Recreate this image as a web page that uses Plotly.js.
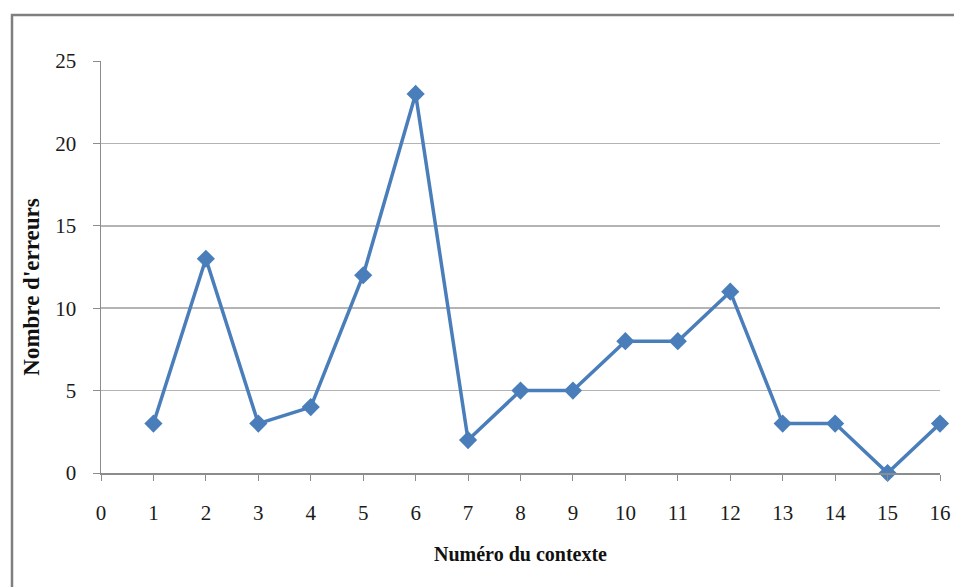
<!DOCTYPE html>
<html>
<head>
<meta charset="utf-8">
<script src="https://cdn.plot.ly/plotly-3.0.1.min.js"></script>
<style>html,body{margin:0;padding:0;background:#fff;}#chart{width:954px;height:587px;}</style>
</head>
<body>
<div id="chart"></div>
<script>
const contextes = [1, 2, 3, 4, 5, 6, 7, 8, 9, 10, 11, 12, 13, 14, 15, 16];
const erreurs = [3, 13, 3, 4, 12, 23, 2, 5, 5, 8, 8, 11, 3, 3, 0, 3];
const xTicks = [0, 1, 2, 3, 4, 5, 6, 7, 8, 9, 10, 11, 12, 13, 14, 15, 16];
const yTicks = [0, 5, 10, 15, 20, 25];
const xTitle = "Numéro du contexte";
const yTitle = "Nombre d'erreurs";

const serif = "Liberation Serif, Times New Roman, serif";

const trace = {
  x: contextes, y: erreurs, type: 'scatter', mode: 'lines+markers',
  line: {color: '#4a7ebb', width: 3.5},
  marker: {symbol: 'diamond', size: 14, color: '#4a7ebb'},
  cliponaxis: false, showlegend: false, hoverinfo: 'skip'
};

const layout = {
  width: 954, height: 587,
  margin: {l: 101, r: 14, t: 61, b: 113.5, pad: 0},
  paper_bgcolor: '#ffffff', plot_bgcolor: '#ffffff',
  font: {family: serif, size: 21, color: '#1a1a1a'},
  xaxis: {
    range: [0, 16], tickvals: xTicks, ticktext: xTicks.map(String),
    showgrid: false, zeroline: false, showline: true, linecolor: '#8c8c8c', linewidth: 1.5,
    ticks: 'outside', ticklen: 6, tickcolor: '#8c8c8c', tickwidth: 1,
    ticklabelstandoff: 14,
    tickfont: {family: serif, size: 21, color: '#1a1a1a'},
    title: {text: xTitle, font: {family: serif, size: 20, color: '#111', weight: 'bold'}, standoff: 23}
  },
  yaxis: {
    range: [0, 25], tickvals: yTicks, ticktext: yTicks.map(String),
    showgrid: true, gridcolor: '#b4b4b4', gridwidth: 1.5,
    zeroline: false, showline: true, linecolor: '#8c8c8c', linewidth: 1.5,
    ticks: 'outside', ticklen: 7, tickcolor: '#8c8c8c', tickwidth: 1,
    ticklabelstandoff: 12,
    tickfont: {family: serif, size: 21, color: '#1a1a1a'}
  },
  annotations: [{
    text: '<b>' + yTitle + '</b>', xref: 'paper', yref: 'paper',
    x: (32 - 101) / 839, y: (473.5 - 288) / 412.5, xanchor: 'center', yanchor: 'middle',
    textangle: -90, showarrow: false, font: {family: serif, size: 23, color: '#111'}
  }],
  shapes: [{
    type: 'rect', xref: 'paper', yref: 'paper',
    x0: (12 - 101) / 839, x1: (960 - 101) / 839,
    y0: (473.5 - 600) / 412.5, y1: (473.5 - 15) / 412.5,
    line: {color: '#7f7f7f', width: 2.5}, fillcolor: 'rgba(0,0,0,0)', layer: 'below'
  }]
};

Plotly.newPlot('chart', [trace], layout, {displayModeBar: false, staticPlot: true});
</script>
</body>
</html>
